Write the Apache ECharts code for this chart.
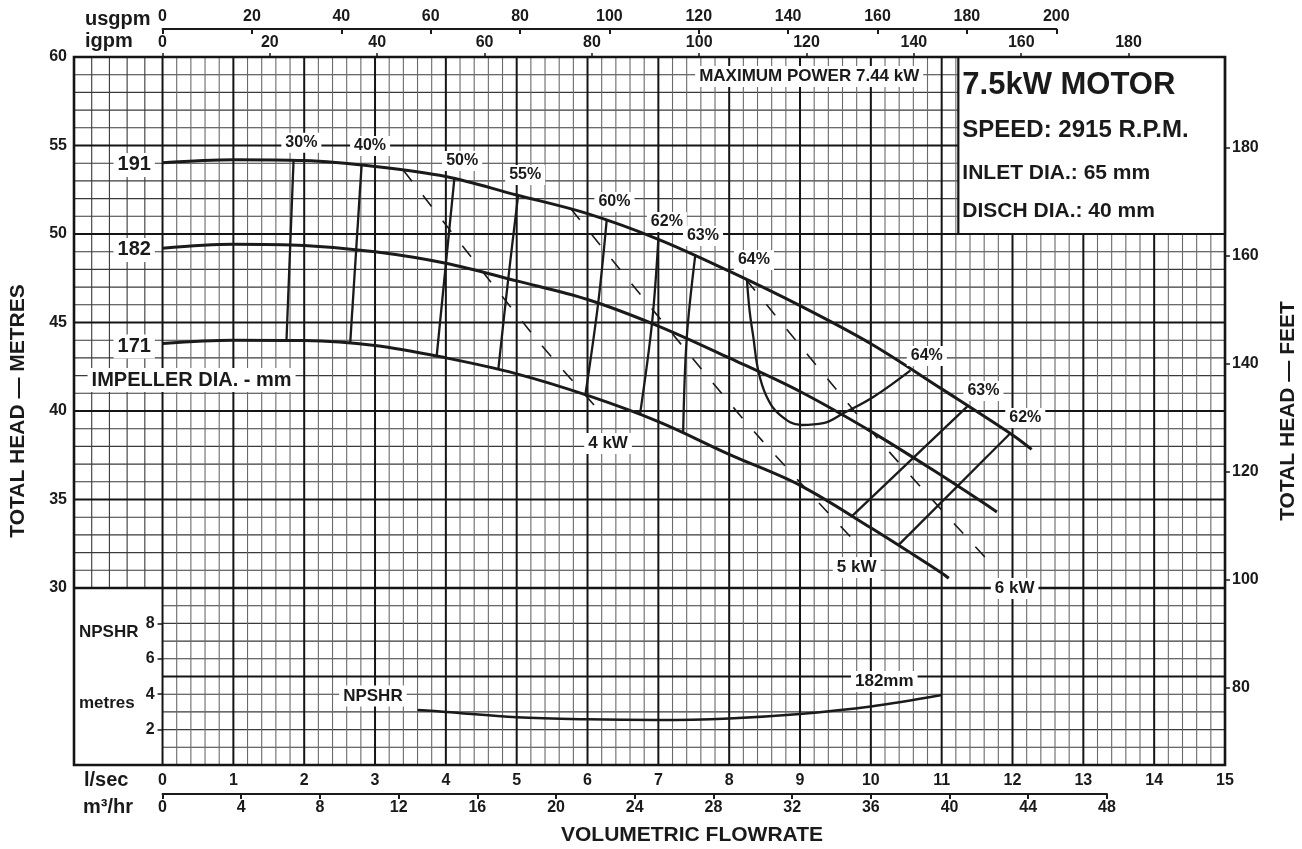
<!DOCTYPE html>
<html><head><meta charset="utf-8">
<script src="https://cdn.jsdelivr.net/npm/echarts@6/dist/echarts.min.js"></script>
<style>html,body{margin:0;padding:0;background:#fff}#c{width:1302px;height:849px}</style>
</head><body><div id="c"></div>
<script>
// ---------- DATA ----------
const lsTicks = [0,1,2,3,4,5,6,7,8,9,10,11,12,13,14,15];          // l/sec
const headTicks = [30,35,40,45,50,55,60];                          // metres
const feetTicks = [80,100,120,140,160,180];                        // feet
const npshrTicks = [2,4,6,8];                                      // NPSHR metres

// head curves [l/sec, metres]
const head191 = [[0,54.03],[1,54.2],[2,54.15],[3,53.82],[4,53.25],[5,52.2],[6,51.15],[7,49.7],[8,47.9],[9,45.95],[10,43.8],[11,41.25],[12,38.65],[12.27,37.83]];
const head182 = [[0,49.2],[1,49.42],[2,49.35],[3,49.0],[4,48.35],[5,47.35],[6,46.3],[7,44.8],[8,43.0],[9,41.1],[10,38.85],[11,36.35],[11.78,34.3]];
const head171 = [[0,43.82],[1,44.0],[2,43.98],[3,43.7],[4,43.0],[5,42.1],[6,40.88],[7,39.4],[8,37.55],[9,35.8],[10,33.4],[11,30.85],[11.1,30.55]];

// iso-efficiency lines
const eff30 = [[1.85,54.18],[1.75,44.0]];
const eff40 = [[2.81,53.88],[2.65,43.86]];
const eff50 = [[4.12,53.13],[3.87,43.09]];
const eff55 = [[5.02,52.18],[4.88,47.44],[4.74,42.33]];
const eff60 = [[6.27,50.76],[6.15,46.08],[5.97,40.92]];
const eff62 = [[7.0,49.7],[6.91,44.95],[6.74,39.78]];
const eff63 = [[7.52,48.76],[7.4,44.08],[7.35,38.75]];
const eff64 = [[8.25,47.45],[8.29,45.6],[8.34,44.2],[8.41,42.3],[8.53,40.81],[8.72,39.77],[9.02,39.21],[9.33,39.31],[9.61,39.87],[10.04,40.81],[10.56,42.3]];
const eff63r = [[11.36,40.25],[9.73,34.05]];
const eff62r = [[11.97,38.74],[10.39,32.42]];

// power lines (dashed)
const kw4 = [[3.40,53.6],[5.29,44.01],[6.26,39.6]];
const kw5 = [[5.77,51.4],[8.21,39.49],[9.78,32.6]];
const kw6 = [[8.24,47.42],[10.09,38.47],[11.66,31.53]];

// NPSHR curve, 182 mm [l/sec, metres]
const npshr182 = [[3.6,3.11],[4,3.0],[5,2.7],[6,2.58],[7,2.54],[8,2.63],[9,2.88],[10,3.3],[11,3.95]];

// labels [text, l/sec, metres]
const effLabels = [['30%',1.96,55.15],['40%',2.93,54.97],['50%',4.23,54.12],['55%',5.12,53.33],['60%',6.38,51.81],['62%',7.12,50.68],['63%',7.63,49.89],['64%',8.35,48.53],['64%',10.79,43.11],['63%',11.59,41.13],['62%',12.18,39.6]];
const kwLabels = [['4 kW',6.29,38.16],['5 kW',9.8,31.16],['6 kW',12.03,29.97],['MAXIMUM POWER 7.44 kW',9.13,58.9]];
const impLabels = [['191',-0.4,53.9],['182',-0.4,49.1],['171',-0.4,43.65]];
const impTitle = [['IMPELLER DIA. - mm',0.41,41.75]];
const npshrLabels = [['NPSHR',2.97,3.9],['182mm',10.19,4.72]];
const motorText = ['7.5kW MOTOR','SPEED: 2915 R.P.M.','INLET DIA.: 65 mm','DISCH DIA.: 40 mm'];

// ---------- LAYOUT ----------
const W=1302,H=849,L=74,R=1225,T=57,B=765;
const XMIN=-1.25, XMAX=15, YMIN=20, YMAX=60;
const FT=3.28084, USG=15.8503, IMG=13.198, M3H=3.6;
const pxLs=(R-L)/(XMAX-XMIN);
const X0=L+(0-XMIN)*pxLs;
const Y30=T+(YMAX-30)/(YMAX-YMIN)*(B-T);
const FONT='"Liberation Sans", Arial, Helvetica, sans-serif';
const INK='#1a1a1a';
const lbl=(sz)=>({color:INK,fontWeight:'bold',fontSize:sz,fontFamily:FONT});

function gridRender(params, api){
  const ch=[];
  const P=(x,y)=>api.coord([x,y]);
  function ln(x1,y1,x2,y2,c,w){const a=P(x1,y1),b=P(x2,y2);ch.push({type:'line',shape:{x1:a[0],y1:a[1],x2:b[0],y2:b[1]},style:{stroke:c,lineWidth:w}});}
  const MINH='#3a3a3a', MINV='#6a6a6a', MAJ='#151515';
  for(let h=31;h<60;h++){ if(h%5) ln(XMIN,h,XMAX,h,MINH,1.1); }
  for(let h=21;h<30;h++){ if(h%5) ln(0,h,XMAX,h,MINH,1.1); }
  for(let i=1;i<75;i++){ if(i%5) ln(i*0.2,YMIN,i*0.2,YMAX,MINV,1.1); }
  for(let i=1;i<5;i++){ ln(XMIN+i*0.25,30,XMIN+i*0.25,YMAX,MINH,1.1); }
  for(let h=35;h<60;h+=5) ln(XMIN,h,XMAX,h,MAJ,2);
  ln(XMIN,30,XMAX,30,MAJ,2.4);
  ln(0,25,XMAX,25,MAJ,2);
  for(let x=0;x<15;x++) ln(x,YMIN,x,YMAX,MAJ,2);
  // motor box
  const a=P(11.235,60), b=P(15,50);
  ch.push({type:'rect',shape:{x:a[0],y:a[1],width:b[0]-a[0],height:b[1]-a[1]},style:{fill:'#fff',stroke:MAJ,lineWidth:2.2}});
  const sizes=[31,24,21,21], offs=[28,73.5,116.5,154];
  motorText.forEach((t,i)=>ch.push({type:'text',x:a[0]+4,y:a[1]+offs[i],style:{text:t,fill:INK,font:'bold '+sizes[i]+'px '+FONT,align:'left',verticalAlign:'middle'}}));
  // frame
  const f1=P(XMIN,YMAX), f2=P(XMAX,YMIN);
  ch.push({type:'rect',shape:{x:f1[0],y:f1[1],width:f2[0]-f1[0],height:f2[1]-f1[1]},style:{fill:'none',stroke:MAJ,lineWidth:2.6}});
  return {type:'group',children:ch};
}

const solid=(d,w)=>({type:'line',xAxisIndex:0,yAxisIndex:0,data:d,symbol:'none',smooth:0.35,z:3,silent:true,lineStyle:{color:INK,width:w}});
const dashed=(d)=>({type:'line',xAxisIndex:0,yAxisIndex:0,data:d,symbol:'none',smooth:0.3,z:3,silent:true,lineStyle:{color:INK,width:1.6,type:[14,18]}});
const labelSeries=(arr,sz,xi,yi)=>({type:'scatter',xAxisIndex:xi,yAxisIndex:yi,symbolSize:1,itemStyle:{color:'rgba(255,255,255,0)',opacity:1},z:10,silent:true,
  data:arr.map(l=>({name:l[0],value:[l[1],l[2]]})),
  label:Object.assign({show:true,position:'inside',formatter:'{b}',backgroundColor:'#fff',padding:[2,4],opacity:1},lbl(sz))});

const hiddenY={show:false,min:0,max:1};
const option={
  animation:false,
  backgroundColor:'#fff',
  grid:[
    {left:L,right:W-R,top:T,bottom:H-B,outerBoundsMode:'none'},
    {left:X0,width:48/M3H*pxLs,top:793,height:1,outerBoundsMode:'none'},
    {left:X0,width:200/USG*pxLs,top:28,height:1,outerBoundsMode:'none'},
    {left:X0,width:180/IMG*pxLs,top:T,height:1,outerBoundsMode:'none'},
    {left:X0,right:W-R,top:Y30,bottom:H-B,outerBoundsMode:'none'}
  ],
  xAxis:[
    {gridIndex:0,type:'value',min:XMIN,max:XMAX,position:'bottom',axisLine:{show:false},axisTick:{show:false},splitLine:{show:false},
      axisLabel:Object.assign({customValues:lsTicks,margin:8},lbl(16))},
    {gridIndex:1,type:'value',min:0,max:48,interval:4,position:'bottom',axisLine:{show:true,lineStyle:{color:INK,width:2}},
      axisTick:{show:true,length:5,lineStyle:{color:INK,width:2}},splitLine:{show:false},axisLabel:Object.assign({margin:6,showMinLabel:true,showMaxLabel:true},lbl(16))},
    {gridIndex:2,type:'value',min:0,max:200,interval:20,position:'top',axisLine:{show:true,lineStyle:{color:INK,width:2}},
      axisTick:{show:true,inside:true,length:5,lineStyle:{color:INK,width:2}},splitLine:{show:false},axisLabel:Object.assign({margin:3,showMinLabel:true,showMaxLabel:true},lbl(16))},
    {gridIndex:3,type:'value',min:0,max:180,interval:20,position:'top',axisLine:{show:false},
      axisTick:{show:true,length:5,lineStyle:{color:INK,width:1.5}},splitLine:{show:false},axisLabel:Object.assign({margin:6,showMinLabel:true,showMaxLabel:true},lbl(16))},
    {gridIndex:4,type:'value',min:0,max:15,show:false}
  ],
  yAxis:[
    {gridIndex:0,type:'value',min:YMIN,max:YMAX,position:'left',axisLine:{show:false},axisTick:{show:false},splitLine:{show:false},
      axisLabel:Object.assign({customValues:headTicks,margin:7},lbl(16))},
    {gridIndex:0,type:'value',min:YMIN*FT,max:YMAX*FT,position:'right',axisLine:{show:false},splitLine:{show:false},
      axisTick:{show:true,customValues:feetTicks,length:5,lineStyle:{color:INK,width:1.5}},
      axisLabel:Object.assign({customValues:feetTicks,margin:7},lbl(16))},
    Object.assign({gridIndex:1},hiddenY),
    Object.assign({gridIndex:2},hiddenY),
    Object.assign({gridIndex:3},hiddenY),
    {gridIndex:4,type:'value',min:0,max:10,position:'left',axisLine:{show:false},splitLine:{show:false},
      axisTick:{show:true,customValues:npshrTicks,length:5,lineStyle:{color:INK,width:1.5}},
      axisLabel:Object.assign({customValues:npshrTicks,margin:8},lbl(16))}
  ],
  graphic:[
    {type:'text',x:85,y:19,style:{text:'usgpm',font:'bold 20px '+FONT,fill:INK,align:'left',verticalAlign:'middle'}},
    {type:'text',x:85,y:41,style:{text:'igpm',font:'bold 20px '+FONT,fill:INK,align:'left',verticalAlign:'middle'}},
    {type:'text',x:84,y:780,style:{text:'l/sec',font:'bold 20px '+FONT,fill:INK,align:'left',verticalAlign:'middle'}},
    {type:'text',x:83,y:807,style:{text:'m³/hr',font:'bold 20px '+FONT,fill:INK,align:'left',verticalAlign:'middle'}},
    {type:'text',x:79,y:632,style:{text:'NPSHR',font:'bold 17px '+FONT,fill:INK,align:'left',verticalAlign:'middle'}},
    {type:'text',x:79,y:703,style:{text:'metres',font:'bold 17px '+FONT,fill:INK,align:'left',verticalAlign:'middle'}},
    {type:'text',x:692,y:835,style:{text:'VOLUMETRIC FLOWRATE',font:'bold 21px '+FONT,fill:INK,align:'center',verticalAlign:'middle'}},
    {type:'text',x:18,y:411,rotation:Math.PI/2,style:{text:'TOTAL HEAD — METRES',font:'bold 21px '+FONT,fill:INK,align:'center',verticalAlign:'middle'}},
    {type:'text',x:1288,y:411,rotation:Math.PI/2,style:{text:'TOTAL HEAD — FEET',font:'bold 21px '+FONT,fill:INK,align:'center',verticalAlign:'middle'}}
  ],
  series:[
    {type:'custom',xAxisIndex:0,yAxisIndex:0,data:[[0,40]],renderItem:gridRender,z:1,silent:true,clip:false},
    solid(head191,3),solid(head182,3),solid(head171,3),
    solid(eff30,2.3),solid(eff40,2.3),solid(eff50,2.3),solid(eff55,2.3),solid(eff60,2.3),solid(eff62,2.3),solid(eff63,2.3),
    Object.assign(solid(eff64,2.3),{smooth:0.4}),
    solid(eff63r,2.3),solid(eff62r,2.3),
    dashed(kw4),dashed(kw5),dashed(kw6),
    {type:'line',xAxisIndex:4,yAxisIndex:5,data:npshr182,symbol:'none',smooth:0.35,z:3,silent:true,lineStyle:{color:INK,width:2.5}},
    labelSeries(effLabels,16,0,0),
    labelSeries(kwLabels,17,0,0),
    labelSeries(impLabels,20,0,0),
    labelSeries(impTitle,20,0,0),
    labelSeries(npshrLabels,17,4,5)
  ]
};
const chart=echarts.init(document.getElementById('c'),null,{renderer:'canvas'});
chart.setOption(option);
</script></body></html>
